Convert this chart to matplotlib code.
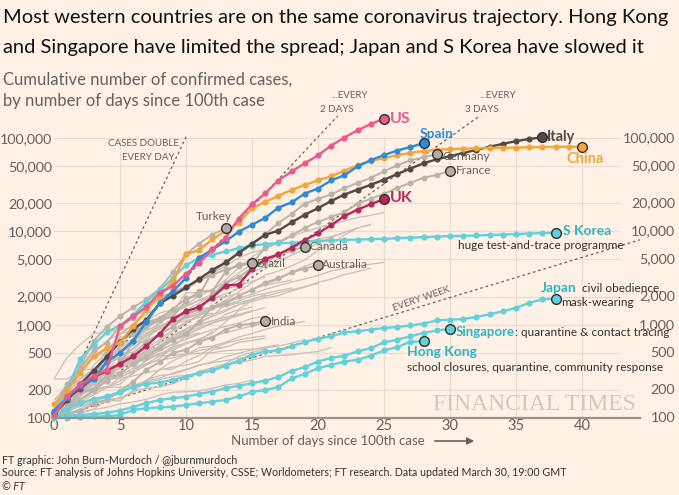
import matplotlib.pyplot as plt
import numpy as np

plt.rcParams['font.family'] = ['Lato', 'DejaVu Sans']

BG = '#fff1e5'
GRID = '#e8dbcf'
TXT = '#66605c'
DARK = '#33302e'

# ---- highlighted countries (cumulative cases, day 0 = ~100th case) ----
us = [105, 170, 230, 280, 330, 960, 1230, 1550, 2190, 2600, 3500, 4600, 6400, 8500,
      13700, 19500, 25500, 35000, 43800, 53700, 65000, 83000, 101000, 121000, 141000, 161000]
spain = [120, 165, 222, 259, 400, 500, 673, 1073, 1695, 2277, 3146, 5232, 6391, 7798, 9942,
         11748, 13910, 17963, 20410, 25374, 28768, 35136, 39885, 49515, 57786, 65719, 73235,
         80110, 87956]
italy = [110, 155, 229, 322, 453, 655, 888, 1128, 1694, 2036, 2502, 3089, 3858, 4636, 5883,
         7375, 9172, 10149, 12462, 15113, 17660, 21157, 24747, 27980, 31506, 35713, 41035,
         47021, 53578, 59138, 63927, 69176, 74386, 80589, 86498, 92472, 97689, 101739]
china = [140, 200, 305, 456, 560, 640, 960, 1450, 2000, 2930, 5660, 6300, 8200, 10100, 12400,
         17600, 20650, 24000, 27800, 31300, 35300, 38800, 44500, 51000, 57000, 60500, 65600,
         69000, 72500, 74800, 76000, 77000, 77500, 78000, 78500, 79000, 79500, 80000, 80300,
         80500, 80600]
uk = [115, 163, 206, 273, 321, 382, 456, 590, 798, 1140, 1391, 1543, 1950, 2626, 2689, 3983,
      5018, 5683, 6650, 8077, 9529, 11658, 14543, 17089, 19522, 22141]
s_korea = [104, 204, 433, 602, 833, 977, 1261, 1766, 2337, 3150, 4335, 5186, 5621, 6088, 6593,
           7041, 7314, 7478, 7513, 7755, 7869, 7979, 8086, 8162, 8236, 8320, 8413, 8565, 8652,
           8799, 8897, 8961, 9037, 9137, 9241, 9332, 9478, 9583, 9661]
japan = [105, 125, 144, 160, 170, 190, 217, 232, 240, 256, 278, 303, 323, 362, 413, 476, 517,
         530, 584, 652, 707, 750, 826, 850, 885, 920, 945, 980, 1025, 1110, 1130, 1150, 1210,
         1290, 1390, 1510, 1710, 1870, 1905]
singapore = [102, 106, 108, 110, 114, 120, 132, 144, 156, 163, 169, 181, 192, 208, 222, 235,
             252, 274, 320, 350, 403, 440, 465, 517, 560, 645, 690, 750, 814, 866, 899]
hong_kong = [100, 101, 103, 104, 104, 108, 122, 127, 130, 132, 138, 144, 150, 156, 170, 190,
             200, 214, 265, 297, 342, 370, 403, 420, 465, 530, 575, 655, 661]

# ---- labelled grey countries ----
germany = [130, 159, 196, 262, 482, 670, 799, 1040, 1176, 1457, 1908, 2078, 3675, 4585, 5795,
           7272, 9257, 12327, 15320, 19848, 22213, 24873, 29056, 32986, 37323, 43938, 50871,
           57695, 62095, 66885]
france = [100, 130, 191, 204, 288, 380, 656, 957, 1134, 1217, 1792, 2289, 2289, 3667, 4480,
          4513, 6650, 7652, 9043, 10871, 12612, 14282, 16018, 19856, 22304, 25233, 29155, 32964,
          37575, 40174, 44550]
turkey = [98, 191, 359, 670, 947, 1236, 1529, 1872, 2433, 3629, 5698, 7402, 9217, 10827]
canada = [108, 117, 193, 198, 252, 415, 478, 657, 800, 943, 1277, 1469, 2088, 2790, 3251, 4042,
          4682, 5576, 6280, 6850]
brazil = [121, 234, 346, 529, 640, 970, 1178, 1546, 1924, 2247, 2554, 2985, 3417, 3904, 4256,
          4579]
australia = [107, 128, 156, 200, 250, 297, 377, 452, 568, 681, 791, 1071, 1549, 1682, 2044,
             2364, 2810, 3143, 3640, 3984, 4361]
india = [102, 112, 119, 142, 156, 194, 244, 330, 396, 499, 536, 657, 727, 887, 987, 1024, 1085]

# ---- other countries, drawn as thin grey lines ----
switzerland = [114, 214, 268, 337, 374, 491, 652, 652, 1139, 1359, 2200, 2200, 2330, 3028, 4075,
               5294, 6575, 7474, 8795, 9877, 10897, 11811, 12928, 14076, 14829, 15922]
netherlands = [128, 188, 265, 321, 382, 503, 503, 804, 959, 1135, 1413, 1705, 2051, 2460, 2994,
               3631, 4204, 4749, 5560, 6412, 7431, 8603, 9762, 10866, 11750]
belgium = [109, 169, 200, 239, 267, 314, 314, 559, 689, 886, 1058, 1243, 1486, 1795, 2257, 2815,
           3401, 3743, 4269, 4937, 6235, 7284, 9134, 10836, 11899]
austria = [104, 131, 182, 246, 302, 504, 655, 860, 1018, 1332, 1646, 2013, 2388, 2814, 3582,
           4474, 5283, 5588, 6909, 7657, 8271, 8788, 9618]
norway = [108, 147, 176, 205, 400, 598, 702, 996, 1090, 1221, 1333, 1463, 1550, 1746, 1914,
          2118, 2385, 2621, 2863, 3084, 3369, 3755, 4015, 4284, 4445, 4641]
sweden = [137, 161, 203, 248, 355, 500, 599, 814, 961, 1022, 1103, 1190, 1279, 1439, 1639,
          1763, 1934, 2046, 2286, 2526, 2840, 3069, 3447, 3700, 4028]
denmark = [264, 444, 617, 804, 836, 875, 933, 1025, 1116, 1225, 1337, 1420, 1514, 1572, 1718,
           1862, 2023, 2200, 2366, 2564, 2755]
portugal = [112, 169, 245, 331, 448, 785, 1020, 1280, 1600, 2060, 2362, 2995, 3544, 4268, 5170,
            5962, 6408]
israel = [100, 126, 161, 193, 213, 250, 298, 427, 529, 705, 883, 1071, 1238, 1656, 2030, 2369,
          2693, 3035, 3619, 4247, 4695]
ireland = [129, 169, 223, 292, 557, 683, 785, 906, 1125, 1329, 1564, 1819, 2121, 2415, 2615,
           2910, 3235]
malaysia = [129, 149, 197, 238, 428, 566, 673, 790, 900, 1030, 1183, 1306, 1518, 1624, 1796,
            2031, 2161, 2320, 2470]
czechia = [116, 150, 214, 298, 383, 450, 560, 765, 889, 1047, 1161, 1287, 1472, 1763, 2022,
           2395, 2657, 2817, 3001]
chile = [156, 201, 238, 238, 434, 537, 632, 746, 922, 1142, 1306, 1610, 1909, 2139, 2449]
poland = [103, 119, 177, 238, 251, 355, 425, 536, 634, 749, 901, 1051, 1221, 1389, 1638, 1862,
          2055]
luxembourg = [140, 203, 335, 484, 670, 798, 875, 1099, 1333, 1453, 1605, 1831, 1950, 1988, 2178]
ecuador = [111, 168, 199, 367, 506, 789, 981, 1082, 1173, 1403, 1595, 1823, 1924, 1962]
pakistan = [136, 236, 299, 454, 501, 730, 776, 875, 972, 1063, 1201, 1373, 1495, 1597, 1717]
russia = [114, 147, 199, 253, 306, 367, 438, 495, 658, 840, 1036, 1264, 1534, 1836]
philippines = [140, 142, 187, 202, 217, 230, 307, 380, 462, 552, 636, 707, 803, 1075, 1418, 1546]
saudi_arabia = [103, 118, 171, 238, 274, 344, 392, 511, 562, 767, 900, 1012, 1104, 1203, 1299]
indonesia = [117, 134, 172, 227, 309, 369, 450, 514, 579, 686, 790, 893, 1046, 1155, 1285, 1414]
finland = [155, 225, 244, 277, 321, 336, 400, 450, 523, 626, 700, 792, 880, 958, 1041, 1167,
           1240]
greece = [117, 190, 228, 331, 331, 387, 418, 418, 495, 530, 624, 695, 743, 821, 892, 966, 1061,
          1156]
thailand = [110, 114, 147, 177, 212, 272, 322, 411, 599, 721, 827, 934, 1045, 1136, 1245, 1388,
            1524]
iceland = [103, 117, 138, 156, 171, 180, 220, 250, 330, 409, 473, 568, 588, 648, 737, 802, 890,
           963, 1020, 1086]
south_africa = [116, 150, 202, 240, 274, 402, 554, 709, 927, 1170, 1187, 1280, 1326]
mexico = [118, 164, 203, 251, 316, 367, 405, 475, 585, 717, 848, 993, 1094]
romania = [123, 131, 158, 184, 260, 277, 308, 367, 433, 576, 762, 906, 1029, 1292, 1452, 1815,
           2109]
bahrain = [109, 110, 189, 210, 212, 214, 221, 241, 256, 279, 285, 305, 332, 377, 392, 419, 458,
           466, 476, 499, 515, 567]
qatar = [262, 262, 320, 337, 401, 439, 442, 452, 460, 470, 481, 494, 501, 526, 537, 549, 562,
         590, 634, 693]
kuwait = [100, 104, 112, 123, 130, 142, 148, 159, 176, 189, 191, 195, 208, 225, 235, 255]
egypt = [109, 110, 126, 150, 166, 196, 210, 256, 285, 294, 327, 366, 402, 456, 495, 536, 576, 609]
uae = [101, 113, 140, 140, 153, 153, 198, 248, 333, 333, 405, 468, 570, 570]
iraq = [101, 110, 116, 124, 154, 164, 192, 208, 214, 233, 266, 316, 346, 382, 458, 506, 547]
lebanon = [109, 120, 133, 149, 157, 163, 187, 248, 267, 304, 333, 368, 391, 412, 438, 446]
slovenia = [141, 181, 219, 253, 275, 286, 341, 383, 414, 442, 480, 528, 562, 632, 684, 730, 756]
estonia = [115, 171, 205, 225, 258, 267, 283, 306, 326, 352, 369, 404, 538, 575, 645, 679, 715]
argentina = [128, 158, 225, 266, 301, 387, 387, 502, 589, 690, 745, 820]
peru = [117, 145, 234, 234, 318, 363, 395, 416, 480, 580, 635, 671, 852]
colombia = [102, 128, 196, 231, 277, 378, 470, 491, 539, 608, 702, 798]

other_lines = [switzerland, netherlands, belgium, austria, norway, sweden, denmark, portugal,
               israel, ireland, malaysia, czechia, chile, poland, luxembourg, ecuador, pakistan,
               russia, philippines, saudi_arabia, indonesia, finland, greece, thailand, iceland,
               south_africa, mexico, romania, bahrain, qatar, kuwait, egypt, uae, iraq, lebanon,
               slovenia, estonia, argentina, peru, colombia]

# doubling-time guide lines: period in days, and the day where each one stops
double_periods = [1, 2, 3, 7]
double_ends = [10.1, 21.5, 32.3, 44.4]

y_ticks = [100, 200, 500, 1000, 2000, 5000, 10000, 20000, 50000, 100000]
x_ticks = [0, 5, 10, 15, 20, 25, 30, 35, 40]

US_C = '#ea5b8b'
SPAIN_C = '#2c8bd5'
ITALY_C = '#4f4a47'
CHINA_C = '#f4a43b'
UK_C = '#b8285c'
CYAN = '#63d1dc'
CYAN_TXT = '#2fb3c2'
GREY_M = '#bbb2aa'
GREY_L = '#c8bfb7'

fig = plt.figure(figsize=(6.79, 4.95), dpi=100, facecolor=BG)
ax = fig.add_axes([54 / 679, 1 - 418 / 495, 586 / 679, 280 / 495])
ax.set_facecolor(BG)
ax.set_yscale('log')
ax.set_xlim(0, 44.4)
ax.set_ylim(100, 100000)

for s in ['top', 'right', 'left']:
    ax.spines[s].set_visible(False)
ax.spines['bottom'].set_color('#9b918a')
ax.spines['bottom'].set_linewidth(1.6)
ax.spines['bottom'].set_zorder(20)

ax.set_yticks(y_ticks)
ax.set_yticklabels([f'{v:,}' for v in y_ticks])
ax.yaxis.set_minor_locator(plt.NullLocator())
ax.set_xticks(x_ticks)
ax.tick_params(axis='both', length=0, colors=TXT)
ax.tick_params(axis='y', pad=1.5, labelsize=10.3)
ax.tick_params(axis='x', pad=0.5, labelsize=10.5)
for v in y_ticks:
    ax.text(1.0597, v, f'{v:,}', transform=ax.get_yaxis_transform(), ha='right', va='center',
            fontsize=10.3, color=TXT)

# grid
ax.hlines(y_ticks[1:], 0, 42.9, color=GRID, lw=0.9, zorder=0)
ax.vlines(x_ticks[1:], 100, 100000, color=GRID, lw=0.9, zorder=0)

# doubling guides
for per, end in zip(double_periods, double_ends):
    ax.plot([0, end], [100, 100 * 2 ** (end / per)], ls=(0, (2.2, 2.2)), color='#6b635e',
            lw=0.9, zorder=1, clip_on=False)

# background countries
for s in other_lines:
    ax.plot(np.arange(len(s)), s, color=GREY_L, lw=0.9, zorder=2, solid_capstyle='round')

# labelled grey countries
for s in [germany, france, turkey, canada, brazil, australia, india]:
    d = np.arange(len(s))
    ax.plot(d, s, color=GREY_M, lw=1.4, marker='o', ms=3.2, zorder=3)
    ax.plot(d[-1], s[-1], 'o', ms=7, mfc='#b5aca4', mec=DARK, mew=1, zorder=12)

# coloured countries
coloured = [(hong_kong, CYAN), (singapore, CYAN), (japan, CYAN), (s_korea, CYAN),
            (uk, UK_C), (italy, ITALY_C), (china, CHINA_C), (spain, SPAIN_C), (us, US_C)]
for s, c in coloured:
    d = np.arange(len(s))
    ax.plot(d, s, color=c, lw=1.7, marker='o', ms=3.4, zorder=5, clip_on=False)
    ax.plot(d[-1], s[-1], 'o', ms=7, mfc=c, mec=DARK, mew=1, zorder=12, clip_on=False)


def tag(series, text, dx, dy, color, size=9.5, weight='bold', ha='left'):
    return ax.annotate(text, xy=(len(series) - 1, series[-1]), xytext=(dx, dy),
                       textcoords='offset points', ha=ha, va='center', fontsize=size,
                       color=color, fontweight=weight, zorder=15, annotation_clip=False)


tag(us, 'US', 4.3, 0, US_C, size=11.5)
tag(spain, 'Spain', -2.6, 6.8, SPAIN_C, size=10)
tag(italy, 'Italy', 3.3, 0, ITALY_C, size=10.5)
tag(china, 'China', 2.2, -8.6, CHINA_C, size=10.5, ha='center')
tag(uk, 'UK', 4.3, 0.7, UK_C, size=11.5)
tag(s_korea, 'S Korea', 5.3, 1.3, CYAN_TXT, size=10)
tag(germany, 'Germany', 4.3, -1.3, TXT, size=8.5, weight='normal')
tag(france, 'France', 4.3, 0, TXT, size=8.5, weight='normal')
tag(turkey, 'Turkey', -8.4, 8.7, TXT, size=8.5, weight='normal', ha='center')
tag(canada, 'Canada', 3.6, 0, TXT, size=8.5, weight='normal')
tag(brazil, 'Brazil', 3.6, -0.7, TXT, size=8.5, weight='normal')
tag(australia, 'Australia', 3.0, 0, TXT, size=8.5, weight='normal')
tag(india, 'India', 4.2, -0.4, TXT, size=8.5, weight='normal')

tag(s_korea, 'huge test-and-trace programme', -70, -9.2, DARK, size=8.5, weight='normal')

tag(japan, 'Japan', -10.5, 7.9, CYAN_TXT, size=10)
tag(japan, 'civil obedience,', 19, 7.6, DARK, size=8.5, weight='normal')
tag(japan, 'mask-wearing', 3.9, -2.6, DARK, size=8.5, weight='normal')

sg = tag(singapore, 'Singapore', 4.3, -2.5, CYAN_TXT, size=9.5)
ax.annotate(': quarantine & contact tracing', xy=(1, 0), xycoords=sg, ha='left', va='bottom',
            fontsize=8.5, color=DARK, zorder=15, annotation_clip=False)

tag(hong_kong, 'Hong Kong', -12, -7.9, CYAN_TXT, size=10)
tag(hong_kong, 'school closures, quarantine, community response', -12, -18.7, DARK, size=8.6,
    weight='normal')

# guide labels
fig.text(179 / 679, 1 - 144 / 495, 'CASES DOUBLE', ha='right', va='center', fontsize=7,
         color=TXT)
fig.text(175 / 679, 1 - 157 / 495, 'EVERY DAY', ha='right', va='center', fontsize=7, color=TXT)
fig.text(331 / 679, 1 - 96 / 495, '...EVERY', ha='left', va='center', fontsize=7, color=TXT)
fig.text(320 / 679, 1 - 110 / 495, '2 DAYS', ha='left', va='center', fontsize=7, color=TXT)
fig.text(479 / 679, 1 - 96 / 495, '...EVERY', ha='left', va='center', fontsize=7, color=TXT)
fig.text(465 / 679, 1 - 110 / 495, '3 DAYS', ha='left', va='center', fontsize=7, color=TXT)
fig.text(421 / 679, 1 - 299 / 495, 'EVERY WEEK', ha='center', va='center', fontsize=7,
         color=TXT, rotation=19)

# watermark
fig.text(534 / 679, 1 - 404 / 495, 'FINANCIAL TIMES', ha='center', va='center',
         fontsize=17, color='#d3c7bc', family='Liberation Serif', zorder=0)

# titles
fig.text(3 / 679, 1 - 17 / 495, 'Most western countries are on the same coronavirus trajectory. Hong Kong',
         ha='left', va='center', fontsize=14.5, color='#111111')
fig.text(3 / 679, 1 - 47 / 495, 'and Singapore have limited the spread; Japan and S Korea have slowed it',
         ha='left', va='center', fontsize=14.5, color='#111111')
fig.text(3 / 679, 1 - 80 / 495, 'Cumulative number of confirmed cases,', ha='left', va='center',
         fontsize=12, color=TXT)
fig.text(3 / 679, 1 - 101 / 495, 'by number of days since 100th case', ha='left', va='center',
         fontsize=12, color=TXT)

# x label with arrow
fig.text(231 / 679, 1 - 441 / 495, 'Number of days since 100th case', ha='left', va='center',
         fontsize=9.5, color=TXT)
fig.patches.append(plt.matplotlib.patches.FancyArrowPatch(
    (432 / 679, 1 - 441 / 495), (477 / 679, 1 - 441 / 495), transform=fig.transFigure,
    arrowstyle='-|>', mutation_scale=10, color=TXT, lw=1.2))

# footer
fig.text(2 / 679, 1 - 460 / 495, 'FT graphic: John Burn-Murdoch / @jburnmurdoch', ha='left',
         va='center', fontsize=7.7, color=DARK)
fig.text(2 / 679, 1 - 473 / 495,
         'Source: FT analysis of Johns Hopkins University, CSSE; Worldometers; FT research. Data updated March 30, 19:00 GMT',
         ha='left', va='center', fontsize=7.7, color=DARK)
fig.text(2 / 679, 1 - 487 / 495, '© FT', ha='left', va='center', fontsize=7.7, color=DARK,
         style='italic')

fig.savefig('out.png', dpi=100, facecolor=BG)
